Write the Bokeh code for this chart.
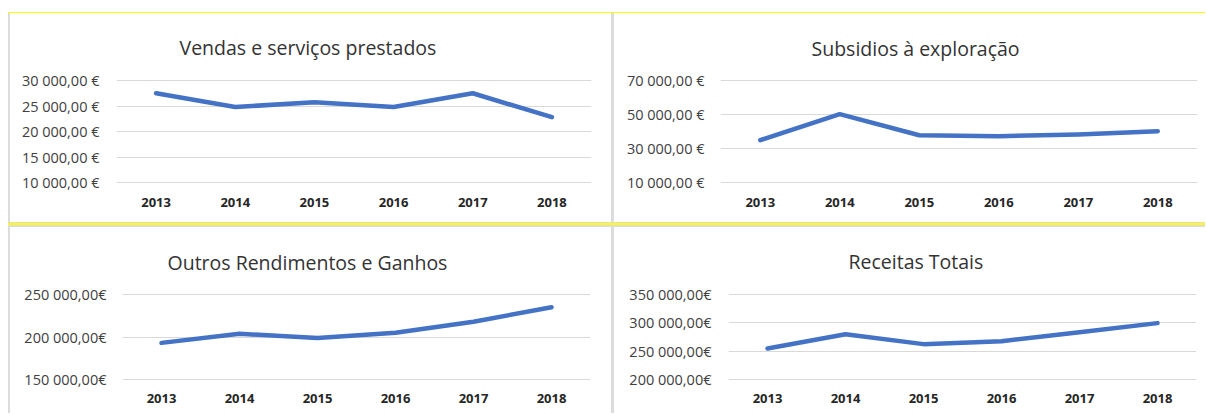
from bokeh.plotting import figure
from bokeh.models import FactorRange, Range1d, FixedTicker, Spacer
from bokeh.layouts import column, row
from bokeh.embed import file_html
from bokeh.resources import INLINE

# ---------------- data ----------------
years = ["2013", "2014", "2015", "2016", "2017", "2018"]

vendas = [27500, 24800, 25750, 24800, 27500, 22800]
subsidios = [34900, 50200, 37800, 37200, 38300, 40200]
outros = [193100, 203800, 198900, 205000, 218000, 235000]
receitas = [254800, 280000, 262400, 267500, 283500, 299500]

titles = ["Vendas e serviços prestados", "Subsidios à exploração",
          "Outros Rendimentos e Ganhos", "Receitas Totais"]

vendas_ticks = [10000, 15000, 20000, 25000, 30000]
vendas_labels = ["10 000,00 €", "15 000,00 €", "20 000,00 €", "25 000,00 €", "30 000,00 €"]

subsidios_ticks = [10000, 30000, 50000, 70000]
subsidios_labels = ["10 000,00 €", "30 000,00 €", "50 000,00 €", "70 000,00 €"]

outros_ticks = [150000, 200000, 250000]
outros_labels = ["150 000,00€", "200 000,00€", "250 000,00€"]

receitas_ticks = [200000, 250000, 300000, 350000]
receitas_labels = ["200 000,00€", "250 000,00€", "300 000,00€", "350 000,00€"]

# ---------------- style ----------------
LINE = "#4472C4"
GRID = "#D9D9D9"
GRAY = "#DCDCDC"
YELLOW = "#FFFF00"
FONT = "Open Sans"


def panel(values, ticks, labels, title, w, h, left, right, top, bottom,
          grid_px, ystand, xstand, toff, tstand):
    span = ticks[-1] - ticks[0]
    pad = span / grid_px  # one pixel of room so edge gridlines are drawn
    p = figure(x_range=FactorRange(*years),
               y_range=Range1d(ticks[0] - pad, ticks[-1] + pad),
               width=w, height=h, output_backend="svg", toolbar_location=None,
               min_border_left=left, min_border_right=right,
               min_border_top=top, min_border_bottom=bottom,
               background_fill_color="white", border_fill_color="white",
               outline_line_color=None)
    p.line(x=years, y=values, line_color=LINE, line_width=4.5,
           line_cap="round", line_join="round")

    ya = p.yaxis[0]
    ya.ticker = FixedTicker(ticks=ticks)
    ya.major_label_overrides = {t: l for t, l in zip(ticks, labels)}
    ya.axis_line_color = None
    ya.major_tick_line_color = None
    ya.minor_tick_line_color = None
    ya.major_tick_out = 0
    ya.major_tick_in = 0
    ya.major_label_standoff = ystand
    ya.major_label_text_font = FONT
    ya.major_label_text_font_size = "14.5px"
    ya.major_label_text_color = "#404040"

    xa = p.xaxis[0]
    xa.axis_line_color = None
    xa.major_tick_line_color = None
    xa.minor_tick_line_color = None
    xa.major_tick_out = 0
    xa.major_tick_in = 0
    xa.major_label_standoff = xstand
    xa.major_label_text_font = FONT
    xa.major_label_text_font_size = "13px"
    xa.major_label_text_font_style = "bold"
    xa.major_label_text_color = "#262626"

    p.xgrid.grid_line_color = None
    p.ygrid.ticker = FixedTicker(ticks=ticks)
    p.ygrid.grid_line_color = GRID
    p.ygrid.grid_line_width = 1

    p.title.text = title
    p.title.align = "left"
    p.title.offset = toff
    p.title.standoff = tstand
    p.title.text_font = FONT
    p.title.text_font_size = "19.5px"
    p.title.text_font_style = "normal"
    p.title.text_color = "#333333"
    return p


p1 = panel(vendas, vendas_ticks, vendas_labels, titles[0],
           601, 209, 106, 20, 66, 39, 102.0, 17, 14, 63, 37)
p2 = panel(subsidios, subsidios_ticks, subsidios_labels, titles[1],
           591, 209, 106, 8, 65, 39, 103.3, 16, 14, 91, 36)
p3 = panel(outros, outros_ticks, outros_labels, titles[2],
           601, 186, 112, 21, 64, 33, 87.3, 16, 13, 45, 35)
p4 = panel(receitas, receitas_ticks, receitas_labels, titles[3],
           591, 186, 114, 9, 66, 33, 85.0, 17, 13, 120, 37)


def bar(w, h, color):
    return Spacer(width=w, height=h, margin=0,
                  styles={"background-color": color})


def hline(h, color):
    return row(bar(8, h, "white"), bar(1197, h, color), spacing=0)


layout = column(
    bar(1205, 12, "white"),
    hline(1, YELLOW),
    row(bar(8, 209, "white"), bar(2, 209, GRAY), p1, bar(3, 209, GRAY), p2, spacing=0),
    hline(1, GRAY),
    hline(2, YELLOW),
    hline(2, GRAY),
    row(bar(8, 186, "white"), bar(2, 186, GRAY), p3, bar(3, 186, GRAY), p4, spacing=0),
    spacing=0,
)

open("out.html", "w").write(file_html(layout, INLINE))
